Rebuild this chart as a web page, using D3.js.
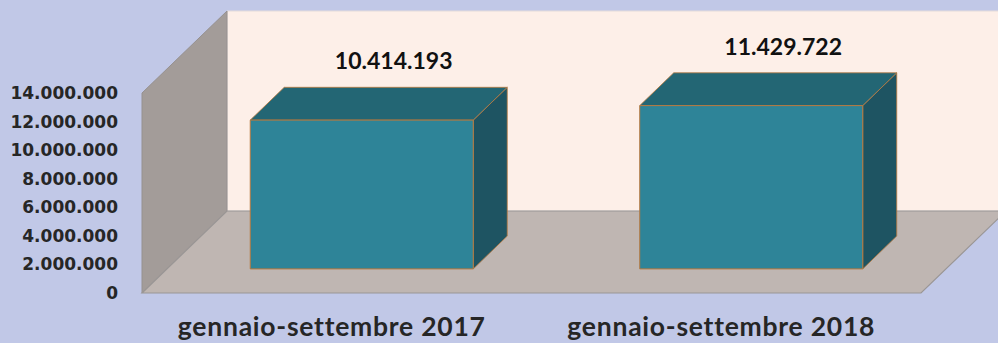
<!DOCTYPE html>
<html>
<head>
<meta charset="utf-8">
<script src="https://cdn.jsdelivr.net/npm/d3@7"></script>
<style>
  html, body { margin: 0; padding: 0; background: #C1C8E7; }
  svg { display: block; }
</style>
</head>
<body>
<svg id="chart" width="998" height="343"></svg>
<script>
// Passengers, January–September comparison
const categories = ["gennaio-settembre 2017", "gennaio-settembre 2018"];
const values = [10414193, 11429722];
const tickValues = [0, 2000000, 4000000, 6000000, 8000000, 10000000, 12000000, 14000000];

const svg = d3.select("#chart");

// Italian number formatting (dot as thousands separator)
const it = d3.formatLocale({ decimal: ",", thousands: ".", grouping: [3], currency: ["€", ""] });
const fmt = it.format(",d");

// Front plane of the 3D box and its depth vector
const x = d3.scaleBand().domain(categories).range([142, 921])
  .paddingInner(0.4275).paddingOuter(0.21375);
const y = d3.scaleLinear().domain([0, 14000000]).range([293, 93]);
const DX = 85, DY = -82;          // full depth of the box
const f0 = 0.294, f1 = 0.694;     // bar front/back depth fractions

const x0 = x.range()[0], x1 = x.range()[1];
const yb = y(0), yt = y(14000000);

const poly = pts => "M" + pts.map(p => p.join(",")).join("L") + "Z";

// Back wall
svg.append("path")
  .attr("d", poly([[x0 + DX, yt + DY], [x1 + DX + 20, yt + DY], [x1 + DX + 20, yb + DY], [x0 + DX, yb + DY]]))
  .attr("fill", "#FDEFE8").attr("stroke", "#E4DCDA").attr("stroke-width", 1);

// Left wall
svg.append("path")
  .attr("d", poly([[x0, yb], [x0, yt], [x0 + DX, yt + DY], [x0 + DX, yb + DY]]))
  .attr("fill", "#A39C99").attr("stroke", "#969190").attr("stroke-width", 1);

// Floor
svg.append("path")
  .attr("d", poly([[x0, yb], [x1, yb], [x1 + DX, yb + DY], [x0 + DX, yb + DY]]))
  .attr("fill", "#BFB6B2").attr("stroke", "#9A9695").attr("stroke-width", 1.2);

// Bars as boxes
const bw = x.bandwidth();
const ddx = (f1 - f0) * DX, ddy = (f1 - f0) * DY;
const bars = svg.append("g").selectAll("g").data(categories.map((c, i) => ({ c, v: values[i] })))
  .join("g");

bars.each(function (d) {
  const g = d3.select(this);
  const bx0 = x(d.c) + f0 * DX, bx1 = bx0 + bw;
  const by0 = y(0) + f0 * DY, by1 = y(d.v) + f0 * DY;
  const stroke = "#B8793F";
  // side
  g.append("path")
    .attr("d", poly([[bx1, by1], [bx1 + ddx, by1 + ddy], [bx1 + ddx, by0 + ddy], [bx1, by0]]))
    .attr("fill", "#1E5462").attr("stroke", stroke).attr("stroke-width", 0.8).attr("stroke-linejoin", "round");
  // top
  g.append("path")
    .attr("d", poly([[bx0, by1], [bx0 + ddx, by1 + ddy], [bx1 + ddx, by1 + ddy], [bx1, by1]]))
    .attr("fill", "#236674").attr("stroke", stroke).attr("stroke-width", 0.8).attr("stroke-linejoin", "round");
  // front
  g.append("path")
    .attr("d", poly([[bx0, by0], [bx0, by1], [bx1, by1], [bx1, by0]]))
    .attr("fill", "#2E8498").attr("stroke", stroke).attr("stroke-width", 1).attr("stroke-linejoin", "round");
  // value label
  g.append("text")
    .attr("x", x(d.c) + bw / 2 + 0.67 * DX)
    .attr("y", by1 + ddy - 18)
    .attr("text-anchor", "middle")
    .attr("font-family", "Lato, 'Open Sans', sans-serif")
    .attr("font-weight", "bold")
    .attr("font-size", 23)
    .attr("fill", "#111")
    .text(fmt(d.v));
});

// Value axis
const yAxis = svg.append("g")
  .attr("transform", `translate(${x0},0)`)
  .call(d3.axisLeft(y).tickValues(tickValues).tickFormat(fmt).tickSize(0).tickPadding(24));
yAxis.select(".domain").remove();
yAxis.selectAll("text")
  .attr("font-family", "'DejaVu Sans', sans-serif")
  .attr("font-weight", "bold")
  .attr("font-size", 17)
  .attr("fill", "#262626");

// Category axis
const xAxis = svg.append("g")
  .attr("transform", `translate(-5,336)`)
  .call(d3.axisBottom(x).tickSize(0).tickPadding(0));
xAxis.select(".domain").remove();
xAxis.selectAll("text")
  .attr("dy", 0)
  .attr("font-family", "Lato, 'Open Sans', sans-serif")
  .attr("font-weight", "bold")
  .attr("font-size", 26.5)
  .attr("letter-spacing", 0.75)
  .attr("fill", "#262626");
</script>
</body>
</html>
